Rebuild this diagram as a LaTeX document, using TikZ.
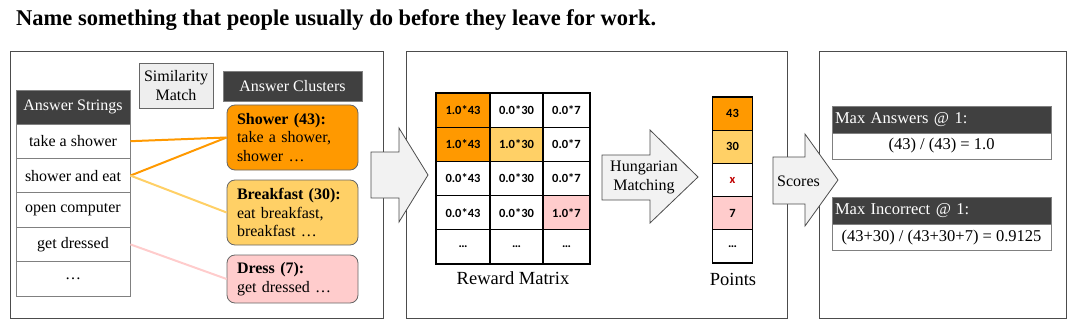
\documentclass[tikz,border=0pt]{standalone}
\usepackage{fontspec}
\setmainfont{Liberation Serif}
\newfontfamily\cellfont{Carlito}
\usetikzlibrary{positioning}

\definecolor{showerorange}{HTML}{FF9900}
\definecolor{breakfastyellow}{HTML}{FFD066}
\definecolor{dresspink}{HTML}{FFCCCC}
\definecolor{headgray}{HTML}{404040}
\definecolor{arrowfill}{HTML}{F2F2F2}
\definecolor{simfill}{HTML}{EEEEEE}
\definecolor{xred}{HTML}{C00000}

\tikzset{
  panel/.style={draw=black!70, line width=0.8pt, inner sep=0pt},
  strhead/.style={draw=black!50, fill=headgray, text=white, line width=0.8pt,
    minimum width=114pt, minimum height=34pt, inner sep=0pt,
    font=\fontsize{16}{19}\selectfont},
  strcell/.style={draw=black!50, line width=0.8pt, minimum width=114pt,
    minimum height=34.4pt, inner sep=0pt, font=\fontsize{16}{19}\selectfont},
  cluster/.style={draw=black!60, line width=0.8pt, rounded corners=8pt,
    text width=111pt, inner xsep=10pt, align=left,
    font=\fontsize{16}{18.5}\selectfont},
  matcell/.style={draw=black, line width=1.3pt, minimum height=34.2pt,
    inner sep=0pt, font=\cellfont\bfseries\fontsize{12.5}{14}\selectfont},
  pointcell/.style={draw=black, line width=1.3pt, minimum width=40pt,
    minimum height=33.2pt, inner sep=0pt,
    font=\cellfont\bfseries\fontsize{12.5}{14}\selectfont},
  blockarrow/.style={fill=arrowfill, draw=black!70, line width=0.8pt},
  scorehead/.style={draw=black!50, fill=headgray, text=white, line width=0.8pt,
    minimum width=219pt, minimum height=27pt, inner xsep=3pt, inner ysep=0pt,
    text width=213pt, align=left, font=\fontsize{16.5}{19}\selectfont},
  scoreval/.style={draw=black!50, line width=0.8pt, minimum width=219pt,
    minimum height=26pt, inner sep=0pt, font=\fontsize{16.5}{19}\selectfont},
  match/.style={line width=2pt}
}

\begin{document}
\begin{tikzpicture}[x=1pt,y=-1pt]
\useasboundingbox (0,0) rectangle (1080,329);
\node[anchor=west, inner sep=0pt, font=\bfseries\fontsize{22.5}{26}\selectfont] (title) at (16,20)
  {Name something that people usually do before they leave for work.};
%
\node[panel, minimum width=373pt, minimum height=267pt] (panelA) at (196.5,184.5) {};
\node[panel, minimum width=381pt, minimum height=267pt] (panelB) at (596.5,184.5) {};
\node[panel, minimum width=247pt, minimum height=267pt] (panelC) at (942.5,184.5) {};
%
% answer strings
\node[strhead] (ashead) at (73,107) {Answer Strings};
\foreach \txt [count=\i] in {take a shower, shower and eat, open computer, get dressed, \ldots}{
\node[strcell] (s\i) at (73,124+34.4*\i-17.2) {\txt};
}
\node[draw=black!60, fill=simfill, line width=0.8pt, minimum width=74pt, minimum height=45pt,
  inner sep=0pt, align=center, font=\fontsize{16}{18.5}\selectfont] (sim) at (176,85.5) {Similarity\\Match};
\node[strhead, minimum width=139pt, minimum height=30pt] (achead) at (292.5,86) {Answer Clusters};
%
% clusters
\node[cluster, fill=showerorange, minimum height=65pt] (c1) at (292.5,137.5)
  {\textbf{Shower (43):}\\take a shower,\\shower \ldots};
\node[cluster, fill=breakfastyellow, minimum height=65pt] (c2) at (292.5,212.5)
  {\textbf{Breakfast (30):}\\eat breakfast,\\breakfast \ldots};
\node[cluster, fill=dresspink, minimum height=48pt] (c3) at (292.5,279)
  {\textbf{Dress (7):}\\get dressed \ldots};
\draw[match, showerorange] (s1.east) -- (c1.west);
\draw[match, showerorange] (s2.east) -- (c1.west);
\draw[match, breakfastyellow] (s2.east) -- (c2.west);
\draw[match, dresspink] (s4.east) -- (c3.west);
%
\filldraw[blockarrow] (371,152) -- (399,152) -- (399,128) -- (428,175) -- (399,222) -- (399,198) -- (371,198) -- cycle;
%
% reward matrix
\foreach \row/\col/\val/\fc in {1/1/1.0*43/showerorange, 1/2/0.0*30/white, 1/3/0.0*7/white,
  2/1/1.0*43/showerorange, 2/2/1.0*30/breakfastyellow, 2/3/0.0*7/white,
  3/1/0.0*43/white, 3/2/0.0*30/white, 3/3/0.0*7/white,
  4/1/0.0*43/white, 4/2/0.0*30/white, 4/3/1.0*7/dresspink,
  5/1/\ldots/white, 5/2/\ldots/white, 5/3/\ldots/white}{
\pgfmathsetmacro\cx{{463,516.5,566.5}[\col-1]}
\pgfmathsetmacro\cw{{54,53,47}[\col-1]}
\node[matcell, fill=\fc, minimum width=\cw pt] (m\row\col) at (\cx,93+34.2*\row-17.1) {\val};
}
\node[font=\fontsize{18.5}{22}\selectfont] (rmlabel) at (513,278) {Reward Matrix};
%
\filldraw[blockarrow] (602,155) -- (650,155) -- (650,130) -- (698,177) -- (650,223) -- (650,200) -- (602,200) -- cycle;
\node[align=center, inner sep=0pt, font=\fontsize{16}{19}\selectfont] (hung) at (644,177) {Hungarian\\Matching};
%
% points
\foreach \i/\val/\fc in {1/43/showerorange, 2/30/breakfastyellow, 3/{\textcolor{xred}{x}}/white,
  4/7/dresspink, 5/\ldots/white}{
\node[pointcell, fill=\fc] (p\i) at (732.5,97+33.2*\i-16.6) {\val};
}
\node[font=\fontsize{18.5}{22}\selectfont] (ptlabel) at (733,279) {Points};
%
\filldraw[blockarrow] (773,157) -- (805,157) -- (805,134) -- (838,180) -- (805,226) -- (805,204) -- (773,204) -- cycle;
\node[inner sep=0pt, font=\fontsize{16}{19}\selectfont] (scores) at (798.5,181) {Scores};
%
% scores
\node[scorehead] (mahead) at (941.5,119.5) {Max Answers @ 1:};
\node[scoreval] (maval) at (941.5,146) {(43) / (43) = 1.0};
\node[scorehead] (mihead) at (941.5,210.5) {Max Incorrect @ 1:};
\node[scoreval] (mival) at (941.5,237.5) {(43+30) / (43+30+7) = 0.9125};
\end{tikzpicture}
\end{document}
